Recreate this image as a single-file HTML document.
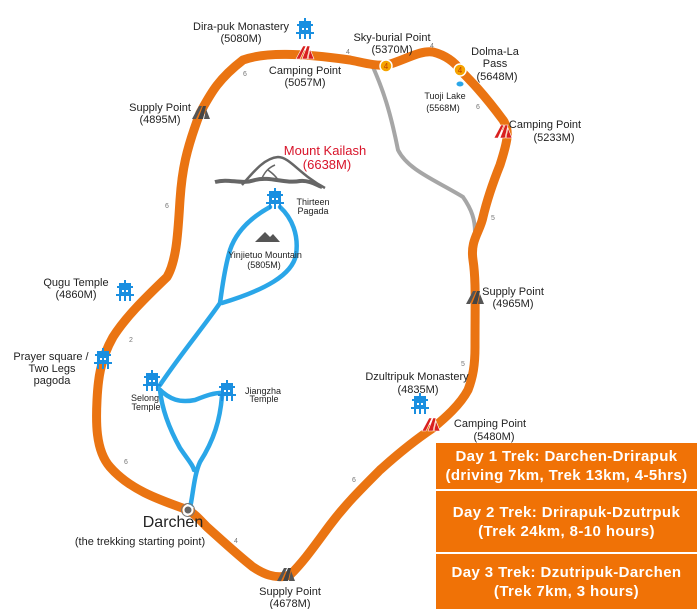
<!DOCTYPE html>
<html><head><meta charset="utf-8"><style>
body{margin:0;background:#fff;width:700px;height:609px;overflow:hidden;position:relative;font-family:"Liberation Sans",Arial,sans-serif}
svg{position:absolute;left:0;top:0}
.box{position:absolute;left:436px;width:261px;background:#f07206;color:#fff;font-weight:bold;font-size:15px;letter-spacing:0.4px;line-height:19px;text-align:center;display:flex;flex-direction:column;justify-content:center}
</style></head><body>
<svg width="700" height="609" viewBox="0 0 700 609" font-family="Liberation Sans, Arial, sans-serif">
<defs>
<g id="pg" fill="#1a8fe0"><rect x="-6" y="-9" width="12" height="3"/><rect x="-8" y="-6" width="16" height="2"/><rect x="-6" y="-4" width="12" height="6"/><rect x="-9" y="2" width="18" height="2"/><rect x="-6" y="4" width="2" height="5"/><rect x="-1" y="4" width="2" height="5"/><rect x="4" y="4" width="2" height="5"/><rect x="-1" y="-12" width="2" height="3"/><rect x="-3" y="-2" width="2" height="2" fill="#fff"/><rect x="1" y="-2" width="2" height="2" fill="#fff"/></g>
<g id="tent" stroke="#fff" stroke-width="0.6"><polygon points="-8,6 -1,-7 2,-7 -4,6" fill="#d9201f"/><polygon points="-2,6 3,-7 6,-7 3,6" fill="#d9201f"/><polygon points="4,6 6,-4 10,6" fill="#d9201f"/></g>
<g id="sup"><polygon points="-8,6 -1,-7 2,-7 -4,6" fill="#555"/><polygon points="-2,6 3,-7 6,-7 3,6" fill="#444"/><polygon points="4,6 6,-4 10,6" fill="#555"/></g>
<g id="pass"><circle r="6" fill="#f5a300" stroke="#fff" stroke-width="1.5"/><text x="0" y="3" font-size="8" text-anchor="middle" fill="#c04000">4</text></g>
</defs>
<path d="M373,67 C383,90 390,110 398,150 C408,170 435,180 463,197 C472,210 475,220 475,232" fill="none" stroke="#a6a6a6" stroke-width="4"/>
<path d="M188,510 C160,500 130,490 110,467 C95,450 96,420 97,400 C98,380 100,360 113,337 C125,318 143,300 167,277 C177,260 178,230 180,200 C182,170 186,150 200,113 C210,95 217,80 243,60 C265,52 300,53 350,60 C365,63 375,66 387,65 C405,60 420,50 433,52 C445,55 455,62 460,70 C470,80 483,93 503,120 C510,130 508,140 500,165 C492,185 487,200 483,217 C480,232 470,240 473,260 C476,280 475,300 475,347 C475,365 473,377 468,390 C460,405 445,418 433,428 C415,440 400,452 380,470 C360,490 345,505 330,525 C315,545 305,560 290,575 C275,580 262,573 253,567 C240,557 227,545 207,527 C200,520 195,514 188,510 Z" fill="none" stroke="#ea7412" stroke-width="9" stroke-linejoin="round"/>
<g fill="none" stroke="#2aa6e8" stroke-width="4.5" stroke-linecap="round">
<path d="M270,207 C250,218 236,232 230,250 C224,270 222,290 220,303 C205,325 180,355 160,385"/>
<path d="M280,207 C292,218 299,235 296,255 C292,275 265,290 222,303"/>
<path d="M158,388 C170,400 180,403 195,400 C205,396 215,392 225,393"/>
<path d="M222,396 C220,420 214,440 200,462 C194,475 193,495 190,508"/>
<path d="M160,390 C162,410 170,430 180,448 C188,460 193,465 194,470"/>
</g>
<circle cx="188" cy="510" r="4.5" fill="#666" stroke="#fff" stroke-width="2"/><circle cx="188" cy="510" r="6.5" fill="none" stroke="#777" stroke-width="1"/>
<use href="#pg" x="305" y="30"/><use href="#pg" x="275" y="200"/><use href="#pg" x="125" y="292"/><use href="#pg" x="103" y="360"/><use href="#pg" x="152" y="382"/><use href="#pg" x="227" y="392"/><use href="#pg" x="420" y="405"/>
<use href="#tent" x="304" y="53"/><use href="#tent" x="502" y="132"/><use href="#tent" x="430" y="425"/>
<use href="#sup" x="200" y="113"/><use href="#sup" x="474" y="298"/><use href="#sup" x="285" y="575"/>
<use href="#pass" x="386" y="66"/><use href="#pass" x="460" y="70"/>
<ellipse cx="460" cy="84" rx="3.5" ry="2.5" fill="#2aa6e8"/>
<g fill="none" stroke="#666" stroke-width="2.5"><path d="M242,185 C255,170 265,158 278,157 C290,157 300,175 325,188"/><path d="M215,182 C230,178 240,185 255,180 C270,176 285,184 300,181 C310,180 318,186 322,187" stroke-width="4"/><path d="M262,178 C265,172 268,168 275,165 M268,170 C272,173 276,176 278,180" stroke-width="1.5"/></g>
<polygon points="255,242 265,232 270,237 273,234 280,242" fill="#555"/>
<g font-size="11" fill="#222" text-anchor="middle">
<text x="241" y="30">Dira-puk Monastery</text><text x="241" y="42">(5080M)</text>
<text x="305" y="74">Camping Point</text><text x="305" y="86">(5057M)</text>
<text x="392" y="41">Sky-burial Point</text><text x="392" y="53">(5370M)</text>
<text x="495" y="55">Dolma-La</text><text x="495" y="67">Pass</text><text x="497" y="80">(5648M)</text>
<text x="160" y="111">Supply Point</text><text x="160" y="123">(4895M)</text>
<text x="545" y="128">Camping Point</text><text x="554" y="141">(5233M)</text>
<text x="76" y="286">Qugu Temple</text><text x="76" y="298">(4860M)</text>
<text x="513" y="295">Supply Point</text><text x="513" y="307">(4965M)</text>
<text x="51" y="360">Prayer square /</text><text x="52" y="372">Two Legs</text><text x="52" y="384">pagoda</text>
<text x="417" y="380">Dzultripuk Monastery</text><text x="418" y="393">(4835M)</text>
<text x="490" y="427">Camping Point</text><text x="494" y="440">(5480M)</text>
<text x="290" y="595">Supply Point</text><text x="290" y="607">(4678M)</text>
<text x="140" y="545">(the trekking starting point)</text>
</g>
<g font-size="9" fill="#222" text-anchor="middle">
<text x="313" y="205">Thirteen</text><text x="313" y="214">Pagada</text>
<text x="265" y="258">Yinjietuo Mountain</text><text x="264" y="268">(5805M)</text>
<text x="145" y="401">Selong</text><text x="146" y="410">Temple</text>
<text x="263" y="394">Jiangzha</text><text x="264" y="402">Temple</text>
<text x="445" y="99">Tuoji Lake</text><text x="443" y="111">(5568M)</text>
</g>
<text x="173" y="527" font-size="16" fill="#222" text-anchor="middle">Darchen</text>
<text x="325" y="155" font-size="13" fill="#d8142a" text-anchor="middle">Mount Kailash</text><text x="327" y="169" font-size="13" fill="#d8142a" text-anchor="middle">(6638M)</text>
<g font-size="7" fill="#777" text-anchor="middle">
<text x="245" y="76">6</text><text x="348" y="54">4</text><text x="432" y="48">4</text><text x="478" y="109">6</text><text x="167" y="208">6</text><text x="493" y="220">5</text><text x="131" y="342">2</text><text x="463" y="366">5</text><text x="126" y="464">6</text><text x="354" y="482">6</text><text x="236" y="543">4</text>
</g>
</svg>
<div class="box" style="top:443px;height:46px">Day 1 Trek: Darchen-Drirapuk<br>(driving 7km, Trek 13km, 4-5hrs)</div>
<div class="box" style="top:491px;height:61px">Day 2 Trek: Drirapuk-Dzutrpuk<br>(Trek 24km, 8-10 hours)</div>
<div class="box" style="top:554px;height:55px">Day 3 Trek: Dzutripuk-Darchen<br>(Trek 7km, 3 hours)</div>
</body></html>
